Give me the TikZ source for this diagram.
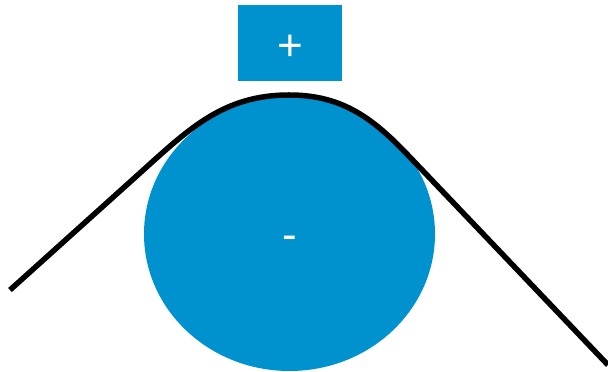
\documentclass[tikz,border=0pt]{standalone}
\usepackage{fontspec}
\setsansfont{Liberation Sans}
\usetikzlibrary{shapes.geometric}
\definecolor{chargeblue}{RGB}{0,146,207}

\begin{document}
\begin{tikzpicture}[
  x=1pt, y=1pt, font=\sffamily\fontsize{44}{48}\selectfont,
  charge/.style={fill=chargeblue,inner sep=0pt},
  sign/.style={text=white,inner sep=0pt},
  curveline/.style={line width=5.5pt,black},
]
\useasboundingbox (0,0) rectangle (608,372);
\node[charge,ellipse,minimum width=291pt,minimum height=274pt,
  label={[sign,yshift=-9pt]center:-}] (neg) at (289.5,138) {};
\node[charge,rectangle,minimum width=104pt,minimum height=76pt,
  label={[sign,yshift=-5pt]center:+}] (pos) at (290,329) {};

\coordinate (lstart) at (10,82);
\coordinate (lbend)  at (140,199);
\coordinate (peak)   at (289,277);
\coordinate (rbend)  at (405,220);
\coordinate (rend)   at (608,7);
\draw[curveline] (lstart) -- (lbend) to[out=42,in=180] (peak)
  to[out=0,in=134] (rbend) -- (rend);
\end{tikzpicture}
\end{document}
